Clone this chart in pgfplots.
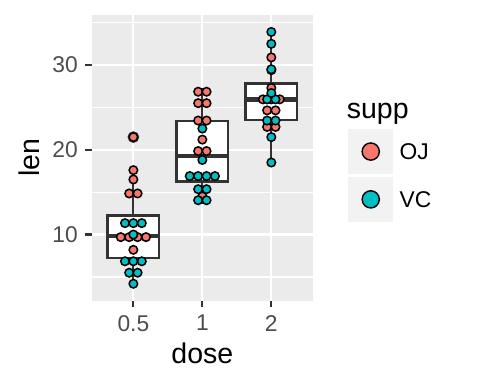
\documentclass[border=0pt]{standalone}
\usepackage{fontspec}
\setmainfont{Liberation Sans}
\usepackage{pgfplots}
\pgfplotsset{compat=1.18}
\definecolor{oj}{HTML}{F8766D}
\definecolor{vc}{HTML}{00BFC4}
\definecolor{panelbg}{HTML}{EBEBEB}
\definecolor{keybg}{HTML}{F2F2F2}
\definecolor{g20}{HTML}{333333}
\definecolor{g30}{HTML}{4D4D4D}
\newcommand{\tickfont}{\fontsize{22.8bp}{27bp}\selectfont}
\newcommand{\titlefont}{\fontsize{28.5bp}{34bp}\selectfont}
\pgfplotsset{dotkey/.style={legend image code/.code={\fill[keybg] (-21.7bp,-21.5bp) rectangle (21.7bp,21.5bp);
    \draw[##1, mark size=8.6bp, line width=1.4bp] plot coordinates {(0bp,0bp)};}}}
\begin{document}
\begin{tikzpicture}
\path[use as bounding box] (-92bp,-83.3bp) rectangle (388bp,300.7bp);
\begin{axis}[
  at={(0,0)}, anchor=south west,
  scale only axis, width=220.7bp, height=285.7bp,
  xmin=0.4, xmax=3.6, ymin=2.2, ymax=35.9,
  axis background/.style={fill=panelbg},
  axis x line*=bottom, axis y line*=left,
  axis line style={draw=none},
  xtick={1,2,3}, xticklabels={\mbox{0.5},\mbox{1},\mbox{2}},
  ytick={10,20,30}, yticklabels={\mbox{10},\mbox{20},\mbox{30}},
  minor ytick={5,15,25,35},
  xmajorgrids, ymajorgrids, yminorgrids,
  major grid style={white, line width=2.2bp},
  minor grid style={white, line width=1.1bp},
  tick align=outside,
  major tick length=6.8bp, minor tick length=0pt,
  tick style={g20, line width=2.2bp},
  xticklabel style={font=\tickfont, text=g30, inner sep=0pt, anchor=north, yshift=-7.5bp},
  yticklabel style={font=\tickfont, text=g30, inner sep=0pt, anchor=east, xshift=-7.2bp},
  xlabel={dose}, ylabel={len},
  xlabel style={font=\titlefont, at={(axis description cs:0.5,-0.2181)}, anchor=base, inner sep=0pt},
  ylabel style={font=\titlefont, at={(axis description cs:-0.2379,0.5)}, anchor=base, inner sep=0pt},
  legend style={at={(axis description cs:1.1613,0.5999)}, anchor=north west, draw=none, fill=none,
    inner sep=0pt, outer sep=0pt, row sep=3.3bp, column sep=6.5bp, font=\tickfont,
    nodes={inner sep=0pt, outer sep=0pt, text depth=0pt, anchor=west}},
  legend cell align=left,
  unbounded coords=jump,
]
% whiskers
\addplot[g20, line width=2.2bp, forget plot] coordinates {
 (1,4.2)(1,17.6) (nan,nan)
 (2,13.6)(2,27.3) (nan,nan)
 (3,18.5)(3,33.9)};
% boxes (quartiles)
\addplot[draw=g20, fill=white, line width=2.2bp, line join=miter, forget plot]
 coordinates {(0.625,7.225)(1.375,7.225)(1.375,12.25)(0.625,12.25)} -- cycle;
\addplot[draw=g20, fill=white, line width=2.2bp, line join=miter, forget plot]
 coordinates {(1.625,16.25)(2.375,16.25)(2.375,23.375)(1.625,23.375)} -- cycle;
\addplot[draw=g20, fill=white, line width=2.2bp, line join=miter, forget plot]
 coordinates {(2.625,23.525)(3.375,23.525)(3.375,27.825)(2.625,27.825)} -- cycle;
% medians
\addplot[g20, line width=4.4bp, forget plot] coordinates {
 (0.625,9.85)(1.375,9.85) (nan,nan)
 (1.625,19.25)(2.375,19.25) (nan,nan)
 (2.625,25.95)(3.375,25.95)};
% outlier
\addplot[only marks, mark=*, mark size=5.6bp, draw=g20, fill=g20, forget plot] coordinates {(1,21.5)};
\addplot[only marks, mark=*, mark size=4.25bp, draw=black, fill=oj, line width=1.5bp, dotkey]
 coordinates {
 (1,8.2)
 (0.817,9.7)(0.939,9.7)(1.061,9.7)(1.183,9.7)
 (0.939,14.85)(1.061,14.85)
 (1,16.5)(1,17.6)(1,21.5)
 (2,14.5)
 (1.939,19.85)(2.061,19.85)
 (2,21.2)
 (1.939,23.45)(2.061,23.45)
 (1.939,25.5)(2.061,25.5)
 (1.939,26.85)(2.061,26.85)
 (2.939,22.7)(3.061,22.7)
 (2.939,24.65)(3.061,24.65)
 (2.878,25.95)(3,25.95)(3.122,25.95)
 (3,27.3)(3,29.4)(3,30.9)
 };
\addlegendentry{OJ}
\addplot[only marks, mark=*, mark size=4.25bp, draw=black, fill=vc, line width=1.5bp, dotkey]
 coordinates {
 (1,4.2)
 (0.939,5.5)(1.061,5.5)
 (0.878,6.85)(1,6.85)(1.122,6.85)
 (1,10)
 (0.878,11.35)(1,11.35)(1.122,11.35)
 (1.939,14.05)(2.061,14.05)
 (1.939,15.35)(2.061,15.35)
 (1.817,16.9)(1.939,16.9)(2.061,16.9)(2.183,16.9)
 (2,18.8)(2,22.5)
 (3,18.5)(3,21.5)
 (2.939,23.45)(3.061,23.45)
 (2.939,25.95)(3.061,25.95)
 (3,26.7)(3,29.5)(3,32.5)(3,33.9)
 };
\addlegendentry{VC}
\end{axis}
\node[anchor=base west, font=\titlefont, inner sep=0pt] at (254.7bp,182.4bp) {supp};
\end{tikzpicture}
\end{document}
